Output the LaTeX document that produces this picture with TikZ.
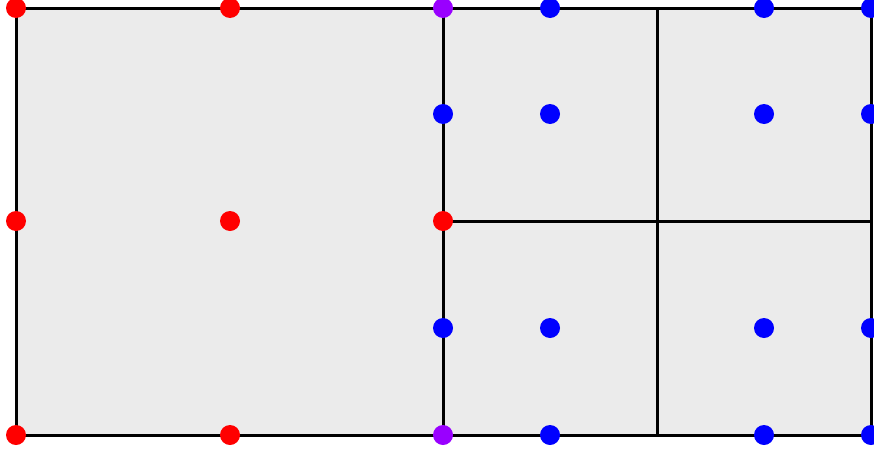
\documentclass[tikz,border=0pt]{standalone}
\definecolor{cellfill}{HTML}{EBEBEB}
\definecolor{dotred}{HTML}{FF0000}
\definecolor{dotblue}{HTML}{0000FF}
\definecolor{dotpurple}{HTML}{9900FF}
\tikzset{
  edge/.style={line width=3pt, black},
  rdot/.style={circle, fill=dotred, inner sep=0pt, minimum size=20pt},
  bdot/.style={circle, fill=dotblue, inner sep=0pt, minimum size=20pt},
  pdot/.style={circle, fill=dotpurple, inner sep=0pt, minimum size=20pt}
}
\begin{document}
\begin{tikzpicture}[x=1pt,y=-1pt]
\useasboundingbox (0,0) rectangle (874,455);
\clip (0,0) rectangle (874,455);
% corners and grid coordinates
\coordinate (A) at (16,8);
\coordinate (B) at (871,8);
\coordinate (C) at (871,435);
\coordinate (D) at (16,435);
\coordinate (M1) at (443,8);
\coordinate (M2) at (443,435);
\coordinate (N1) at (657,8);
\coordinate (N2) at (657,435);
\coordinate (H1) at (443,221);
\coordinate (H2) at (871,221);
\fill[cellfill] (A) rectangle (C);
\draw[edge] (A) rectangle (C);
\draw[edge] (M1) -- (M2);
\draw[edge] (N1) -- (N2);
\draw[edge] (H1) -- (H2);
% red dots (left element)
\node[rdot] (r1) at (16,8) {};
\node[rdot] (r2) at (230,8) {};
\node[rdot] (r3) at (16,221) {};
\node[rdot] (r4) at (230,221) {};
\node[rdot] (r5) at (443,221) {};
\node[rdot] (r6) at (16,435) {};
\node[rdot] (r7) at (230,435) {};
% purple dots
\node[pdot] (p1) at (443,8) {};
\node[pdot] (p2) at (443,435) {};
% blue dots
\node[bdot] (b1) at (550,8) {};
\node[bdot] (b2) at (764,8) {};
\node[bdot] (b3) at (871,8) {};
\node[bdot] (b4) at (443,114) {};
\node[bdot] (b5) at (550,114) {};
\node[bdot] (b6) at (764,114) {};
\node[bdot] (b7) at (871,114) {};
\node[bdot] (b8) at (443,328) {};
\node[bdot] (b9) at (550,328) {};
\node[bdot] (b10) at (764,328) {};
\node[bdot] (b11) at (871,328) {};
\node[bdot] (b12) at (550,435) {};
\node[bdot] (b13) at (764,435) {};
\node[bdot] (b14) at (871,435) {};
\end{tikzpicture}
\end{document}
